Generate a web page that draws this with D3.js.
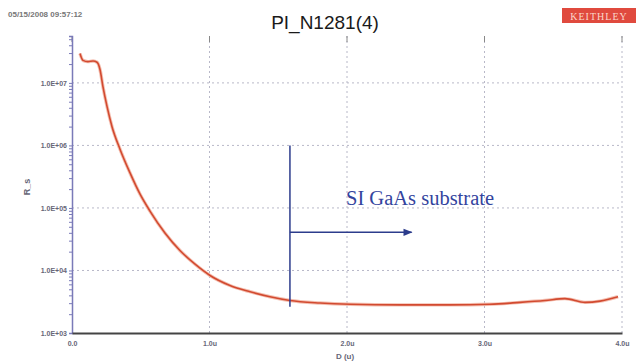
<!DOCTYPE html>
<html><head><meta charset="utf-8">
<script src="https://cdn.jsdelivr.net/npm/d3@7/dist/d3.min.js"></script>
<style>body{margin:0;background:#fff}svg{display:block}</style>
</head><body>
<script>
// Data (depth in microns, value on log scale)
const depth = [0.058,0.080,0.116,0.153,0.182,0.204,0.225,0.255,0.291,0.349,0.422,0.495,0.567,0.676,0.785,0.895,1.004,1.149,1.295,1.44,1.585,1.804,2.022,2.385,2.749,3.04,3.258,3.44,3.585,3.731,3.84,3.971];
const logVal = [7.47,7.36,7.34,7.35,7.33,7.21,6.94,6.62,6.30,5.94,5.56,5.22,4.95,4.60,4.32,4.10,3.92,3.76,3.66,3.58,3.52,3.48,3.46,3.45,3.45,3.46,3.49,3.52,3.55,3.49,3.51,3.58];
const xTicks = [0,1,2,3,4];
const xTickLabels = ["0.0","1.0u","2.0u","3.0u","4.0u"];
const yTicks = [1e3,1e4,1e5,1e6,1e7];
const yTickLabels = ["1.0E+03","1.0E+04","1.0E+05","1.0E+06","1.0E+07"];
const title = "PI_N1281(4)";
const stamp = "05/15/2008 09:57:12";
const brand = "KEITHLEY";
const annotation = "SI GaAs substrate";
const annotX = 1.585, annotTop = 1e6, annotBottom = Math.pow(10,3.42), annotArrowY = Math.pow(10,4.61), annotArrowEnd = 2.47;

const W=636,H=361;
const svg=d3.select("body").append("svg").attr("width",W).attr("height",H);
const x=d3.scaleLinear().domain([0,4]).range([72,622]);
const y=d3.scaleLog().domain([1e3,Math.pow(10,7.75)]).range([333,36]);

// grid
const g=svg.append("g");
g.selectAll(".vg").data(xTicks.slice(1)).join("line")
 .attr("x1",d=>x(d)).attr("x2",d=>x(d)).attr("y1",36).attr("y2",333)
 .attr("stroke","#b8b8c8").attr("stroke-width",1).attr("stroke-dasharray","2,3");
g.selectAll(".hg").data(yTicks.slice(1)).join("line")
 .attr("x1",72).attr("x2",622).attr("y1",d=>y(d)).attr("y2",d=>y(d))
 .attr("stroke","#b8b8c8").attr("stroke-width",1).attr("stroke-dasharray","2,3");
// top ticks
g.selectAll(".tt").data(xTicks).join("line")
 .attr("x1",d=>x(d)).attr("x2",d=>x(d)).attr("y1",36).attr("y2",42)
 .attr("stroke","#888");

// y axis with log minor ticks
const yAxis=d3.axisLeft(y).tickValues(y.ticks()).tickSize(3).tickFormat(d=>{const i=yTicks.indexOf(d);return i>=0?yTickLabels[i]:"";});
const ya=svg.append("g").attr("transform","translate(72,0)").call(yAxis);
ya.select(".domain").attr("stroke","#7a7ab8").attr("stroke-width",1.5);
ya.selectAll(".tick line").attr("stroke","#7a7ab8");
ya.selectAll(".tick text").attr("font-family","Arial, sans-serif").attr("font-size",7).attr("font-weight","bold").attr("fill","#667").attr("x",-5);

// x axis
const xAxis=d3.axisBottom(x).tickValues(xTicks).tickSize(0).tickFormat((d,i)=>xTickLabels[i]);
const xa=svg.append("g").attr("transform","translate(0,333)").call(xAxis);
xa.select(".domain").attr("stroke","#444").attr("stroke-width",2.2);
xa.selectAll(".tick text").attr("font-family","Arial, sans-serif").attr("font-size",7).attr("font-weight","bold").attr("fill","#667").attr("dy",10);

// curve
const line=d3.line().x((d,i)=>x(depth[i])).y((d,i)=>y(Math.pow(10,logVal[i]))).curve(d3.curveMonotoneX);
svg.append("path").datum(logVal).attr("d",line).attr("fill","none").attr("stroke","#f4c0b2").attr("stroke-width",3.4);
svg.append("path").datum(logVal).attr("d",line).attr("fill","none").attr("stroke","#d24a30").attr("stroke-width",1.6);

// annotation
const navy="#2c3c8c";
svg.append("defs").append("marker").attr("id","ah").attr("viewBox","0 0 10 10").attr("refX",9).attr("refY",5)
 .attr("markerWidth",8).attr("markerHeight",6).attr("orient","auto")
 .append("path").attr("d","M0,1L10,5L0,9Z").attr("fill",navy);
svg.append("line").attr("x1",x(annotX)).attr("x2",x(annotX)).attr("y1",y(annotTop)).attr("y2",y(annotBottom)).attr("stroke",navy).attr("stroke-width",1.5);
svg.append("line").attr("x1",x(annotX)).attr("x2",x(annotArrowEnd)).attr("y1",y(annotArrowY)).attr("y2",y(annotArrowY)).attr("stroke",navy).attr("stroke-width",1.5).attr("marker-end","url(#ah)");
svg.append("text").attr("x",346).attr("y",205).attr("font-family","Liberation Serif, Times New Roman, serif").attr("font-size",20.5).attr("fill","#33449e").text(annotation);

// labels
svg.append("text").attr("x",325).attr("y",29).attr("text-anchor","middle").attr("font-family","Arial, Liberation Sans, sans-serif").attr("font-size",19).attr("fill","#1a1a1a").text(title);
svg.append("text").attr("x",8).attr("y",17).attr("font-family","Arial, sans-serif").attr("font-size",8).attr("font-weight","bold").attr("fill","#777").text(stamp);
svg.append("rect").attr("x",562).attr("y",8).attr("width",74).attr("height",15).attr("fill","#e04a3e");
svg.append("text").attr("x",599).attr("y",19.5).attr("text-anchor","middle").attr("font-family","Liberation Serif, serif").attr("font-size",10).attr("fill","#fbd8cc").attr("letter-spacing",1).text(brand);
svg.append("text").attr("transform","translate(30,187) rotate(-90)").attr("text-anchor","middle").attr("font-family","Arial, sans-serif").attr("font-size",9).attr("font-weight","bold").attr("fill","#667").text("R_s");
svg.append("text").attr("x",345).attr("y",359).attr("text-anchor","middle").attr("font-family","Arial, sans-serif").attr("font-size",8).attr("font-weight","bold").attr("fill","#667").text("D (u)");
</script>
</body></html>
